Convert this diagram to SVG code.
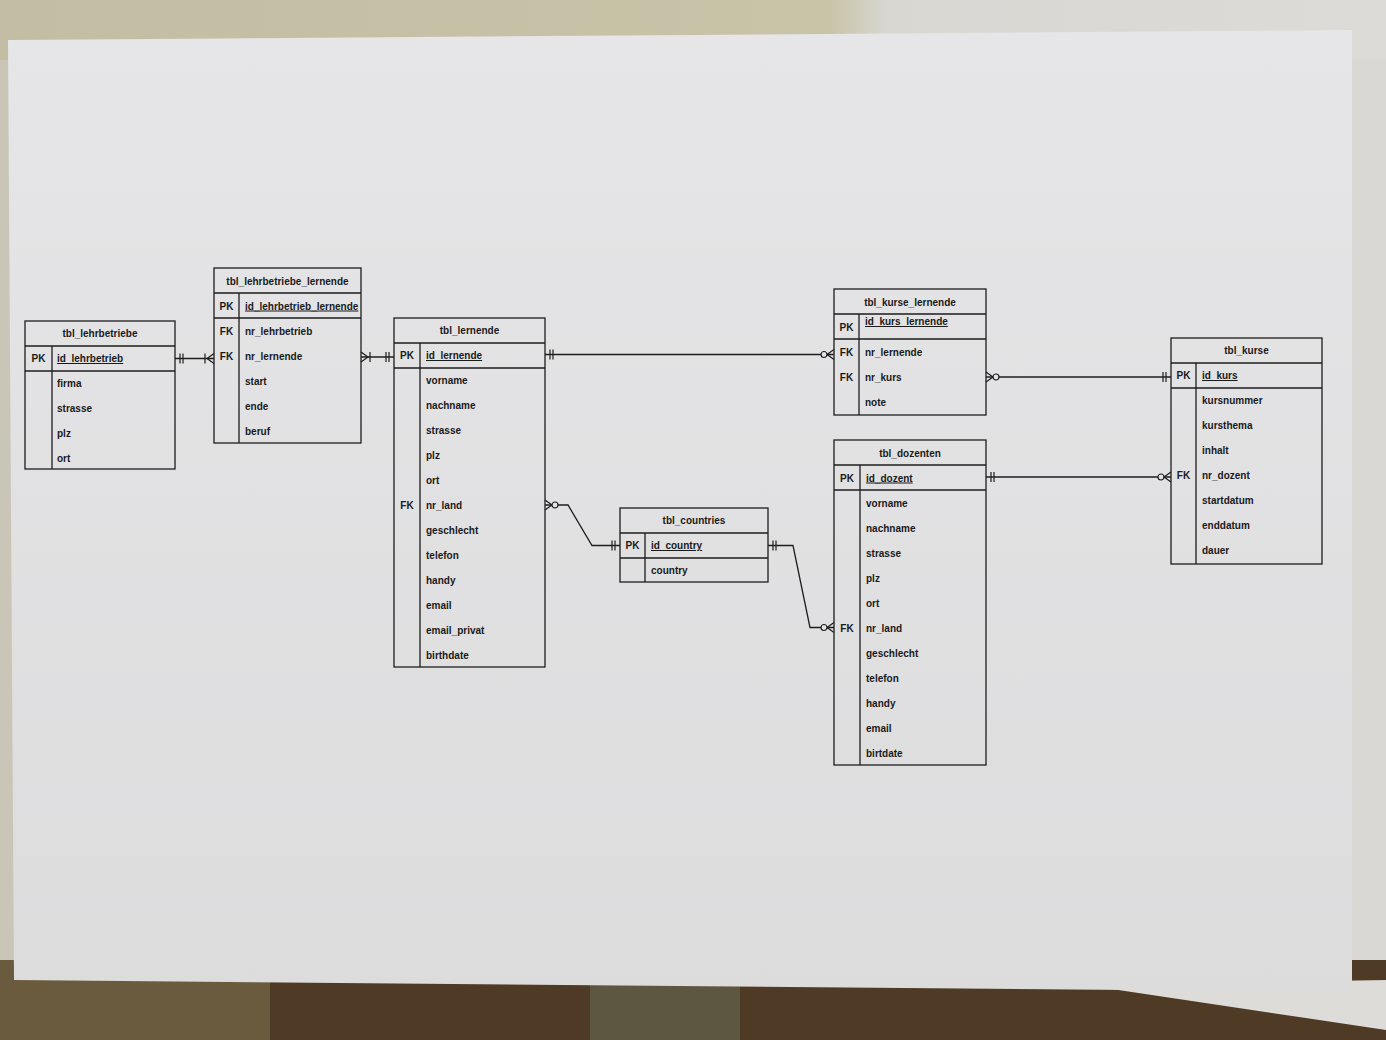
<svg xmlns="http://www.w3.org/2000/svg" width="1386" height="1040" viewBox="0 0 1386 1040">
<style>
.box{fill:none;stroke:#1e1e1e;stroke-width:1.3}
.ln{stroke:#1e1e1e;stroke-width:1.3;fill:none}
.t{font-family:"Liberation Sans",Arial,sans-serif;font-size:10px;font-weight:bold;fill:#1a1a1a}
.c{text-anchor:middle}
.u{text-decoration:underline}
</style>
<defs>
<linearGradient id="bgTop" x1="0" y1="0" x2="1" y2="0">
<stop offset="0" stop-color="#c2bda3"/>
<stop offset="0.6" stop-color="#c9c4a8"/>
<stop offset="0.64" stop-color="#d8d7d2"/>
<stop offset="1" stop-color="#dcdbd8"/>
</linearGradient>
<linearGradient id="paper" x1="0" y1="0" x2="0" y2="1">
<stop offset="0" stop-color="#e6e5e7"/>
<stop offset="1" stop-color="#dddcdd"/>
</linearGradient>
<marker id="one" viewBox="-20 -8 22 16" refX="0" refY="0" markerWidth="22" markerHeight="16" markerUnits="userSpaceOnUse" orient="auto-start-reverse" overflow="visible">
<path d="M-5,-5V5M-8,-5V5" stroke="#1e1e1e" stroke-width="1.2" fill="none"/>
</marker>
<marker id="zmany" viewBox="-20 -8 22 16" refX="0" refY="0" markerWidth="22" markerHeight="16" markerUnits="userSpaceOnUse" orient="auto-start-reverse" overflow="visible">
<path d="M0,-5L-7,0L0,5" stroke="#1e1e1e" stroke-width="1.2" fill="none"/>
<circle cx="-10" cy="0" r="3" fill="#e4e4e6" stroke="#1e1e1e" stroke-width="1.2"/>
</marker>
<marker id="omany" viewBox="-20 -8 22 16" refX="0" refY="0" markerWidth="22" markerHeight="16" markerUnits="userSpaceOnUse" orient="auto-start-reverse" overflow="visible">
<path d="M0,-5L-7,0L0,5M-9,-5V5" stroke="#1e1e1e" stroke-width="1.2" fill="none"/>
</marker>
</defs>

<rect x="0" y="0" width="1386" height="1040" fill="#d9d8d4"/>
<rect x="0" y="0" width="1386" height="60" fill="url(#bgTop)"/>
<rect x="0" y="60" width="20" height="900" fill="#c9c6b8"/>
<rect x="0" y="960" width="1386" height="80" fill="#4f3b25"/>
<rect x="0" y="960" width="270" height="80" fill="#6a5a3e"/>
<rect x="590" y="975" width="150" height="65" fill="#5d5640"/>
<polygon points="1085,985 1386,980 1386,1030" fill="#dedcd9"/>
<polygon points="8,40 1352,30 1352,992 14,980" fill="url(#paper)"/>

<g id="connectors">
<path class="ln" d="M175,358.5H214" marker-start="url(#one)" marker-end="url(#omany)"/>
<path class="ln" d="M361,357H394" marker-start="url(#omany)" marker-end="url(#one)"/>
<path class="ln" d="M545,354.5H834" marker-start="url(#one)" marker-end="url(#zmany)"/>
<path class="ln" d="M545,505H568L592,545.5H620" marker-start="url(#zmany)" marker-end="url(#one)"/>
<path class="ln" d="M768,545.5H793L810,627.5H834" marker-start="url(#one)" marker-end="url(#zmany)"/>
<path class="ln" d="M986,377H1171" marker-start="url(#zmany)" marker-end="url(#one)"/>
<path class="ln" d="M986,477H1171" marker-start="url(#one)" marker-end="url(#zmany)"/>
</g>

<g id="tbl_lehrbetriebe">
<rect class="box" x="25" y="321" width="150" height="148"/>
<path class="ln" d="M25,346H175M25,371H175M52,346V469"/>
<text class="t c" x="100" y="337">tbl_lehrbetriebe</text>
<text class="t c" x="38.5" y="362">PK</text>
<text class="t u" x="57" y="362">id_lehrbetrieb</text>
<text class="t" x="57" y="387">firma</text>
<text class="t" x="57" y="412">strasse</text>
<text class="t" x="57" y="437">plz</text>
<text class="t" x="57" y="462">ort</text>
</g>

<g id="tbl_lehrbetriebe_lernende">
<rect class="box" x="214" y="268" width="147" height="175"/>
<path class="ln" d="M214,293H361M214,318H361M239,293V443"/>
<text class="t c" x="287.5" y="285">tbl_lehrbetriebe_lernende</text>
<text class="t c" x="226.5" y="309.5">PK</text>
<text class="t u" x="245" y="309.5">id_lehrbetrieb_lernende</text>
<text class="t c" x="226.5" y="335">FK</text>
<text class="t" x="245" y="335">nr_lehrbetrieb</text>
<text class="t c" x="226.5" y="360">FK</text>
<text class="t" x="245" y="360">nr_lernende</text>
<text class="t" x="245" y="385">start</text>
<text class="t" x="245" y="410">ende</text>
<text class="t" x="245" y="435">beruf</text>
</g>

<g id="tbl_lernende">
<rect class="box" x="394" y="318" width="151" height="349"/>
<path class="ln" d="M394,343H545M394,368H545M420,343V667"/>
<text class="t c" x="469.5" y="334">tbl_lernende</text>
<text class="t c" x="407" y="359">PK</text>
<text class="t u" x="426" y="359">id_lernende</text>
<text class="t" x="426" y="384">vorname</text>
<text class="t" x="426" y="409">nachname</text>
<text class="t" x="426" y="434">strasse</text>
<text class="t" x="426" y="459">plz</text>
<text class="t" x="426" y="484">ort</text>
<text class="t c" x="407" y="509">FK</text>
<text class="t" x="426" y="509">nr_land</text>
<text class="t" x="426" y="534">geschlecht</text>
<text class="t" x="426" y="559">telefon</text>
<text class="t" x="426" y="584">handy</text>
<text class="t" x="426" y="609">email</text>
<text class="t" x="426" y="634">email_privat</text>
<text class="t" x="426" y="659">birthdate</text>
</g>

<g id="tbl_countries">
<rect class="box" x="620" y="508" width="148" height="74"/>
<path class="ln" d="M620,533H768M620,558H768M645,533V582"/>
<text class="t c" x="694" y="524">tbl_countries</text>
<text class="t c" x="632.5" y="549">PK</text>
<text class="t u" x="651" y="549">id_country</text>
<text class="t" x="651" y="574">country</text>
</g>

<g id="tbl_kurse_lernende">
<rect class="box" x="834" y="289" width="152" height="126"/>
<path class="ln" d="M834,314H986M834,339H986M859,314V415"/>
<text class="t c" x="910" y="305.5">tbl_kurse_lernende</text>
<text class="t c" x="846.5" y="331">PK</text>
<text class="t u" x="865" y="325">id_kurs_lernende</text>
<text class="t c" x="846.5" y="356">FK</text>
<text class="t" x="865" y="356">nr_lernende</text>
<text class="t c" x="846.5" y="381">FK</text>
<text class="t" x="865" y="381">nr_kurs</text>
<text class="t" x="865" y="406">note</text>
</g>

<g id="tbl_dozenten">
<rect class="box" x="834" y="440" width="152" height="325"/>
<path class="ln" d="M834,465H986M834,490H986M860,465V765"/>
<text class="t c" x="910" y="456.5">tbl_dozenten</text>
<text class="t c" x="847" y="481.5">PK</text>
<text class="t u" x="866" y="481.5">id_dozent</text>
<text class="t" x="866" y="506.5">vorname</text>
<text class="t" x="866" y="531.5">nachname</text>
<text class="t" x="866" y="556.5">strasse</text>
<text class="t" x="866" y="581.5">plz</text>
<text class="t" x="866" y="606.5">ort</text>
<text class="t c" x="847" y="631.5">FK</text>
<text class="t" x="866" y="631.5">nr_land</text>
<text class="t" x="866" y="656.5">geschlecht</text>
<text class="t" x="866" y="681.5">telefon</text>
<text class="t" x="866" y="706.5">handy</text>
<text class="t" x="866" y="731.5">email</text>
<text class="t" x="866" y="756.5">birtdate</text>
</g>

<g id="tbl_kurse">
<rect class="box" x="1171" y="338" width="151" height="226"/>
<path class="ln" d="M1171,363H1322M1171,388H1322M1196,363V564"/>
<text class="t c" x="1246.5" y="354">tbl_kurse</text>
<text class="t c" x="1183.5" y="379">PK</text>
<text class="t u" x="1202" y="379">id_kurs</text>
<text class="t" x="1202" y="404">kursnummer</text>
<text class="t" x="1202" y="429">kursthema</text>
<text class="t" x="1202" y="454">inhalt</text>
<text class="t c" x="1183.5" y="479">FK</text>
<text class="t" x="1202" y="479">nr_dozent</text>
<text class="t" x="1202" y="504">startdatum</text>
<text class="t" x="1202" y="529">enddatum</text>
<text class="t" x="1202" y="554">dauer</text>
</g>
</svg>
